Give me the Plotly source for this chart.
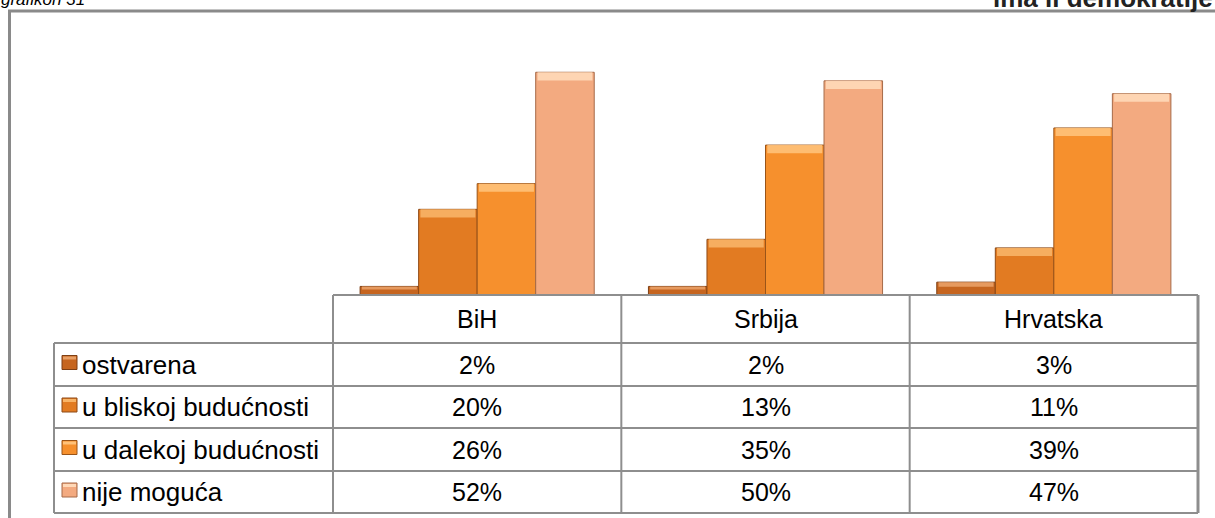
import plotly.graph_objects as go

# --- data -------------------------------------------------------------
countries = ["BiH", "Srbija", "Hrvatska"]
series_names = ["ostvarena", "u bliskoj budućnosti", "u dalekoj budućnosti", "nije moguća"]
ostvarena = [2, 2, 3]
bliska = [20, 13, 11]
daleka = [26, 35, 39]
nije_moguca = [52, 50, 47]
series_values = [ostvarena, bliska, daleka, nije_moguca]

chart_label = "grafikon 31"
chart_title = "ima li demokratije"

# --- style ------------------------------------------------------------
W, H = 1215, 518
FONT = "Liberation Sans, Arial, sans-serif"
GRID = "#8E8E8E"
fills = ["#C6651F", "#E27B22", "#F6902D", "#F3AA80"]
tops = ["#E9A066", "#F8B467", "#FFC27A", "#FFD9B8"]
edges = ["#7E3F14", "#8E4A16", "#9A5418", "#A66A48"]

# pixel layout of the chart block
TAB_LEFT, COL0, TAB_RIGHT = 54, 333, 1198
BASE_Y, PLOT_TOP = 295, 38
ROW_Y = [295, 343, 386, 428, 471, 513]


def px(x):
    return x / W


def py(y):
    return 1 - y / H


n_cat = len(countries)
n_ser = len(series_names)
cat_w = (TAB_RIGHT - COL0) / n_cat
bar_w = 0.203
group_off = -bar_w * n_ser / 2

fig = go.Figure()
for i, (name, vals) in enumerate(zip(series_names, series_values)):
    fig.add_trace(go.Bar(
        x=list(range(n_cat)), y=vals, name=name,
        width=bar_w, offset=group_off + i * bar_w,
        marker=dict(color=fills[i], line=dict(color=edges[i], width=1)),
        showlegend=False, hoverinfo="skip",
    ))
    # light bevel strip along the top of each bar
    strip = [min(1.9, v * 0.35) for v in vals]
    fig.add_trace(go.Bar(
        x=list(range(n_cat)), y=strip, base=[v - s for v, s in zip(vals, strip)],
        width=bar_w * 0.94, offset=group_off + i * bar_w + bar_w * 0.03,
        marker=dict(color=tops[i], line=dict(width=0), opacity=0.9),
        showlegend=False, hoverinfo="skip",
    ))

shapes = []
annotations = []

# outer frame (top and left edges)
shapes.append(dict(type="line", xref="paper", yref="paper",
                   x0=px(8), x1=px(W), y0=py(11), y1=py(11),
                   line=dict(color="#8A8A8A", width=3)))
shapes.append(dict(type="line", xref="paper", yref="paper",
                   x0=px(9.5), x1=px(9.5), y0=py(10), y1=py(H),
                   line=dict(color="#8A8A8A", width=3)))

# data table grid
col_x = [COL0 + k * cat_w for k in range(n_cat + 1)]
shapes.append(dict(type="line", xref="paper", yref="paper",
                   x0=px(COL0), x1=px(TAB_RIGHT), y0=py(ROW_Y[0]), y1=py(ROW_Y[0]),
                   line=dict(color=GRID, width=2)))
for yv in ROW_Y[1:]:
    shapes.append(dict(type="line", xref="paper", yref="paper",
                       x0=px(TAB_LEFT), x1=px(TAB_RIGHT), y0=py(yv), y1=py(yv),
                       line=dict(color=GRID, width=2)))
shapes.append(dict(type="line", xref="paper", yref="paper",
                   x0=px(TAB_LEFT), x1=px(TAB_LEFT), y0=py(ROW_Y[1]), y1=py(ROW_Y[-1]),
                   line=dict(color=GRID, width=2)))
for k, xv in enumerate(col_x):
    shapes.append(dict(type="line", xref="paper", yref="paper",
                       x0=px(xv), x1=px(xv), y0=py(ROW_Y[0]), y1=py(ROW_Y[-1]),
                       line=dict(color=GRID, width=3 if k == n_cat else 2)))

# header row
for k, c in enumerate(countries):
    annotations.append(dict(xref="paper", yref="paper",
                            x=px((col_x[k] + col_x[k + 1]) / 2),
                            y=py((ROW_Y[0] + ROW_Y[1]) / 2),
                            text=c, showarrow=False, xanchor="center", yanchor="middle",
                            font=dict(family=FONT, size=25, color="#000")))

# series rows: key swatch, label and values
for i, (name, vals) in enumerate(zip(series_names, series_values)):
    yc = (ROW_Y[i + 1] + ROW_Y[i + 2]) / 2
    shapes.append(dict(type="rect", xref="paper", yref="paper",
                       x0=px(62), x1=px(77), y0=py(yc - 9), y1=py(yc + 5),
                       fillcolor=fills[i], line=dict(color=edges[i], width=1)))
    shapes.append(dict(type="rect", xref="paper", yref="paper",
                       x0=px(63), x1=px(76), y0=py(yc - 8), y1=py(yc - 5),
                       fillcolor=tops[i], line=dict(width=0)))
    annotations.append(dict(xref="paper", yref="paper", x=px(80), y=py(yc),
                            text=name, showarrow=False, xanchor="left", yanchor="middle",
                            font=dict(family=FONT, size=26, color="#000")))
    for k, v in enumerate(vals):
        annotations.append(dict(xref="paper", yref="paper",
                                x=px((col_x[k] + col_x[k + 1]) / 2), y=py(yc),
                                text=f"{v}%", showarrow=False,
                                xanchor="center", yanchor="middle",
                                font=dict(family=FONT, size=25, color="#000")))

# running header texts along the top edge
annotations.append(dict(xref="paper", yref="paper", x=px(-1), y=py(11),
                        text=f"<i>{chart_label}</i>", showarrow=False,
                        xanchor="left", yanchor="bottom",
                        font=dict(family=FONT, size=17, color="#000")))
annotations.append(dict(xref="paper", yref="paper", x=px(991), y=py(15),
                        text=f"<b>{chart_title}</b>", showarrow=False,
                        xanchor="left", yanchor="bottom",
                        font=dict(family=FONT, size=26, color="#222")))

fig.update_layout(
    width=W, height=H,
    margin=dict(l=0, r=0, t=0, b=0),
    paper_bgcolor="white", plot_bgcolor="white",
    barmode="overlay",
    xaxis=dict(domain=[px(COL0), px(TAB_RIGHT)], range=[-0.5, n_cat - 0.5],
               visible=False, fixedrange=True),
    yaxis=dict(domain=[py(BASE_Y), py(PLOT_TOP)], range=[0, 60],
               visible=False, fixedrange=True),
    shapes=shapes, annotations=annotations,
    showlegend=False,
)

fig.write_html("out.html")
